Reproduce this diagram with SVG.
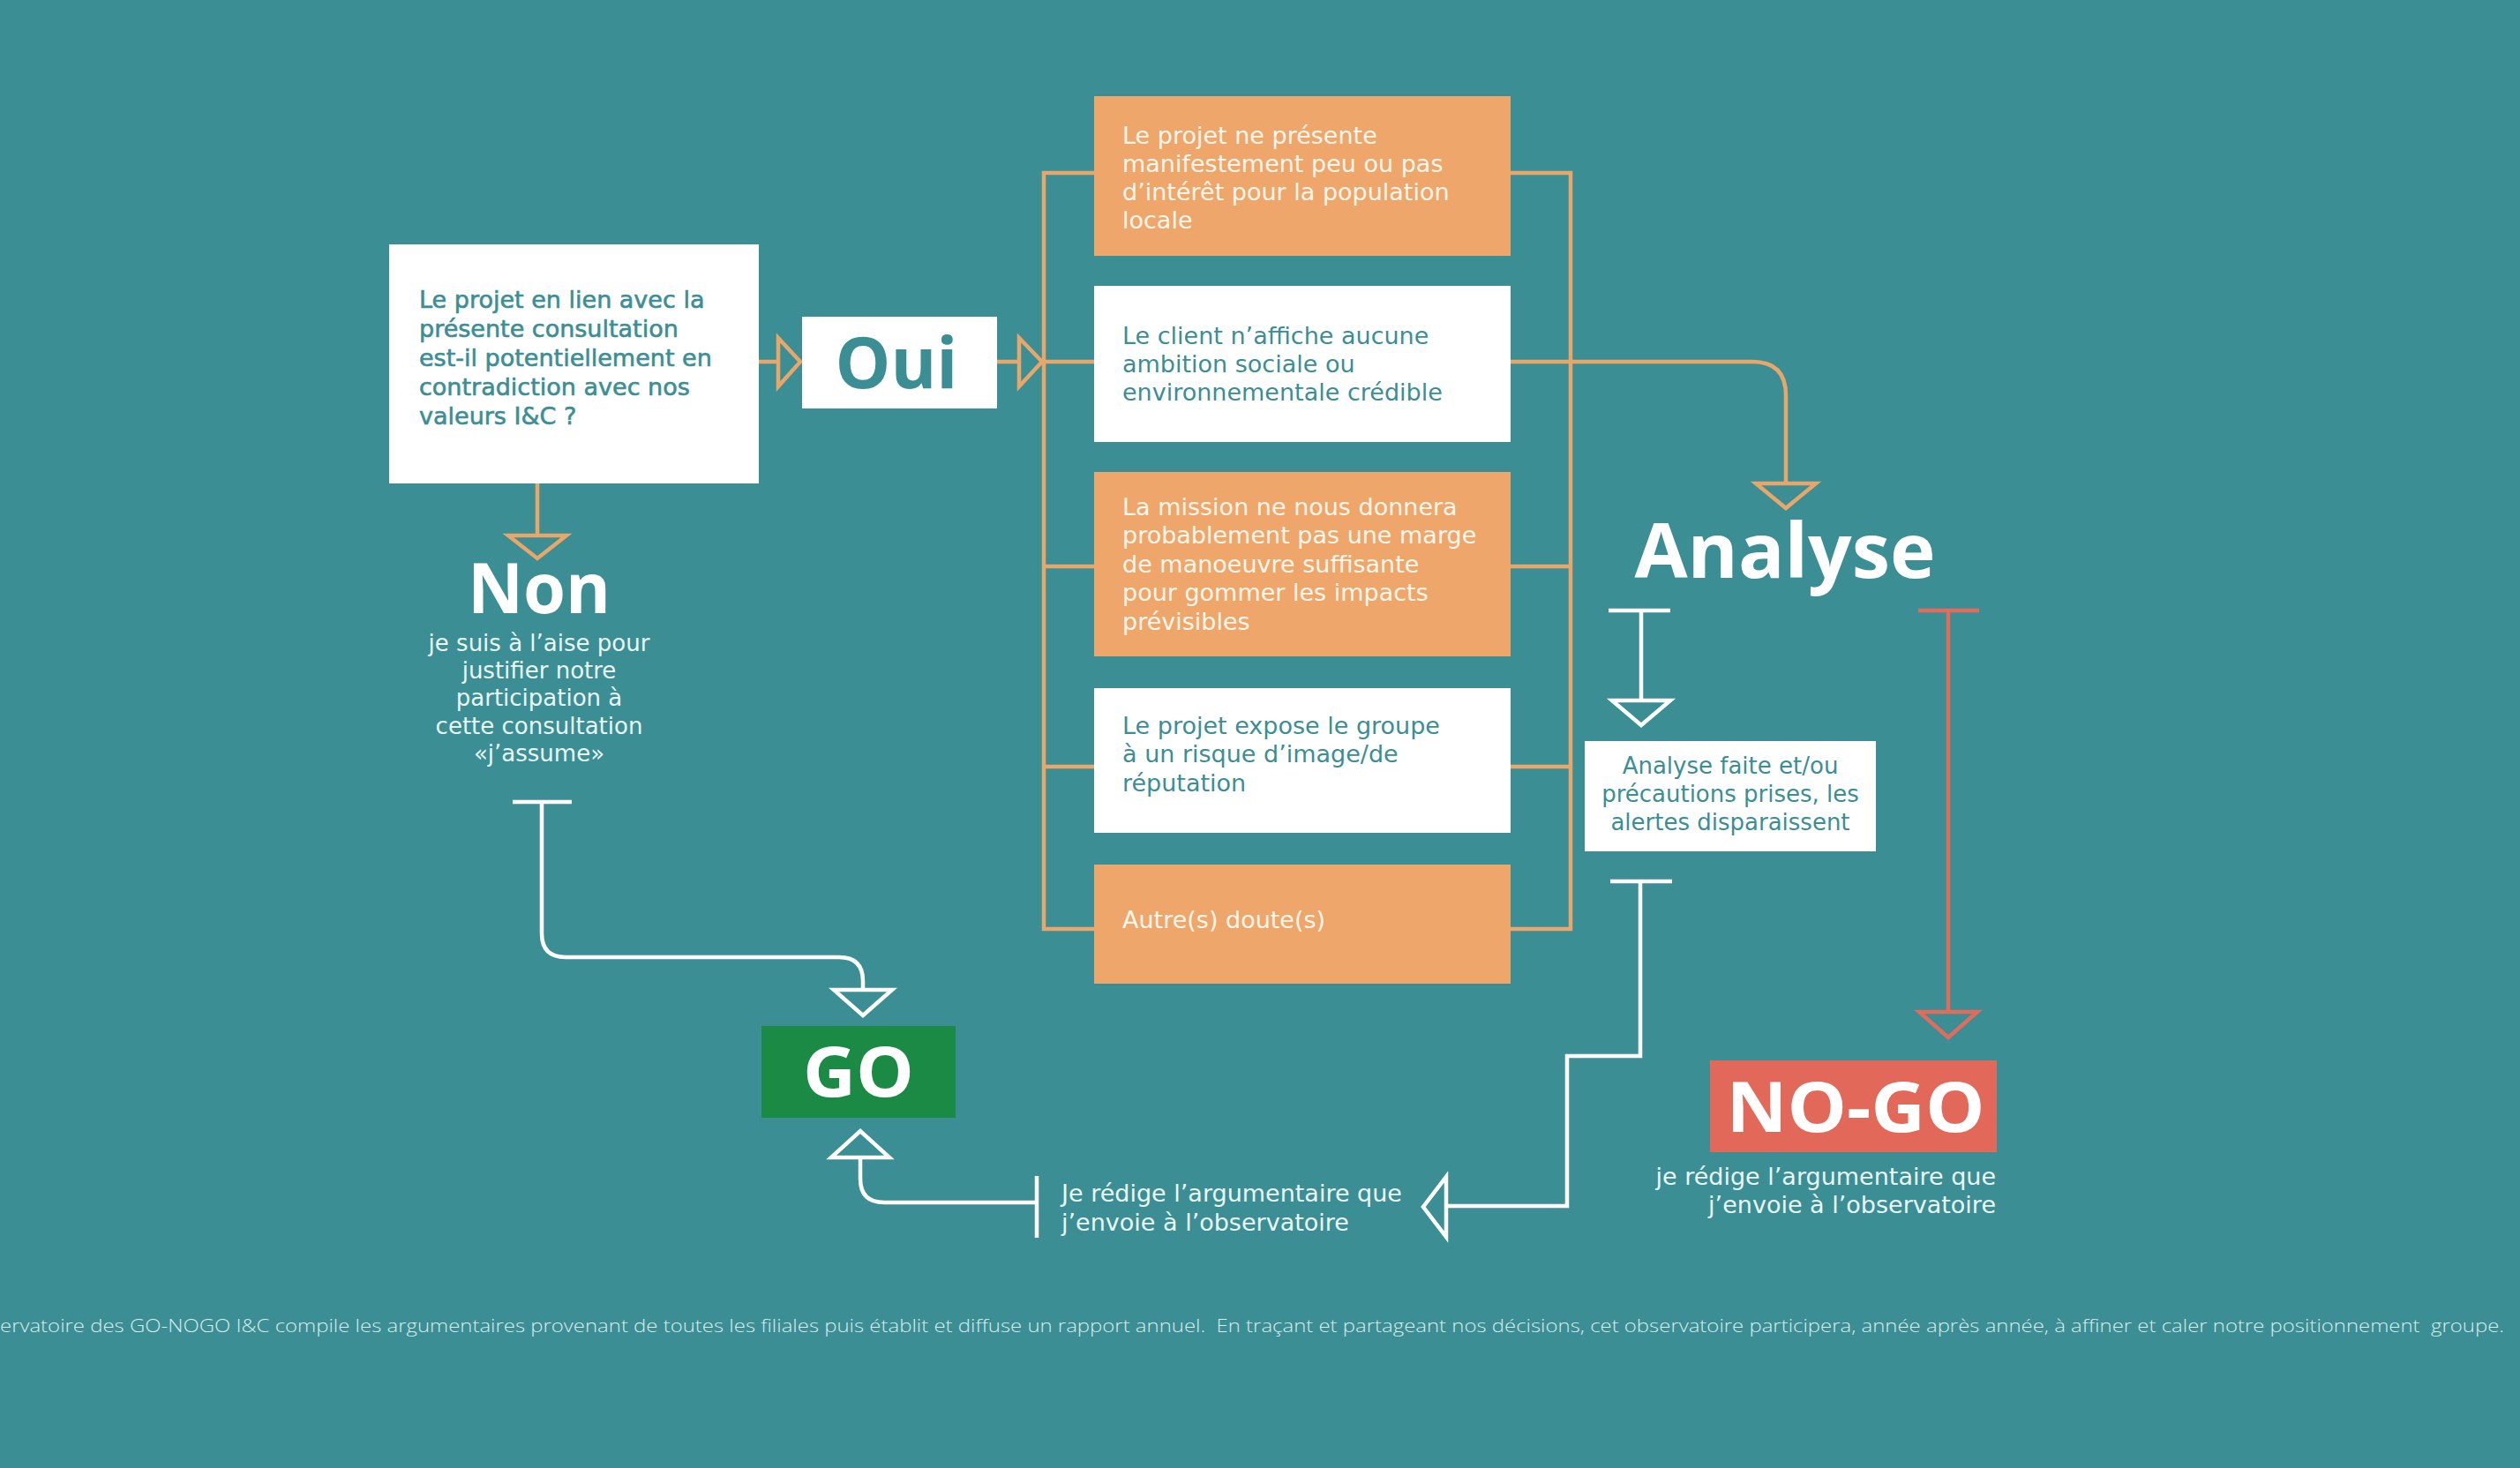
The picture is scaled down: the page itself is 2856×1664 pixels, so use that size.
<svg xmlns="http://www.w3.org/2000/svg" width="2856" height="1664" viewBox="0 0 2856 1664">
<style>
.bg{fill:#3B8E94}
.wbox{fill:#FFFFFF}
.obox{fill:#EEA66A}
.otxt{font-family:"DejaVu Sans","Liberation Sans",sans-serif;font-size:27px;fill:#FFF6EC}
.ttxt{font-family:"DejaVu Sans","Liberation Sans",sans-serif;font-size:27px;fill:#3B8E94}
.qtxt{font-family:"DejaVu Sans","Liberation Sans",sans-serif;font-size:27px;fill:#3B8E94;stroke:#3B8E94;stroke-width:0.6}
.wtxt{font-family:"DejaVu Sans","Liberation Sans",sans-serif;font-size:27px;fill:#EAF7F7}
.head{font-family:"Open Sans","Liberation Sans",sans-serif;font-weight:700;fill:#FFFFFF}
.foot{font-family:"Open Sans","Liberation Sans",sans-serif;font-size:21px;font-weight:300;fill:#D6ECEE}
.ol{fill:none;stroke:#E9A66B;stroke-width:4.5}
.wl{fill:none;stroke:#FFFFFF;stroke-width:4.5}
.rl{fill:none;stroke:#E26C5C;stroke-width:4.5}
.otri{fill:#3B8E94;stroke:#E9A66B;stroke-width:4.5;stroke-linejoin:miter}
.wtri{fill:#3B8E94;stroke:#FFFFFF;stroke-width:4.5;stroke-linejoin:miter}
.rtri{fill:#3B8E94;stroke:#E26C5C;stroke-width:4.5;stroke-linejoin:miter}
</style>
<rect class="bg" x="0" y="0" width="2856" height="1664"/>

<g id="connectors">
  <!-- question to Oui -->
  <line class="ol" x1="860" y1="410" x2="882" y2="410"/>
  <polygon class="otri" points="882,383 907,410 882,438"/>
  <!-- Oui to bracket -->
  <line class="ol" x1="1130" y1="410" x2="1155" y2="410"/>
  <polygon class="otri" points="1155,383 1181,410 1155,438"/>
  <!-- left bracket -->
  <path class="ol" d="M1240,196 H1183 V1053 H1240 M1183,410 H1240 M1183,642 H1240 M1183,869 H1240"/>
  <!-- right bracket -->
  <path class="ol" d="M1712,196 H1780 V1053 H1712 M1712,642 H1780 M1712,869 H1780"/>
  <!-- box2 to Analyse -->
  <path class="ol" d="M1712,410 H1986 Q2024,410 2024,448 V548"/>
  <polygon class="otri" points="1990,548 2058,548 2024,576"/>
  <!-- question to Non -->
  <line class="ol" x1="609" y1="548" x2="609" y2="607"/>
  <polygon class="otri" points="576,607 642,607 609,633"/>
  <!-- Non to GO -->
  <path class="wl" d="M581,909 H648 M614,909 V1058 Q614,1085 641,1085 H951 Q978,1085 978,1112 V1122"/>
  <polygon class="wtri" points="945,1122 1011,1122 978,1151"/>
  <!-- Analyse to Analyse faite -->
  <path class="wl" d="M1823,692 H1893 M1860,692 V794"/>
  <polygon class="wtri" points="1827,794 1893,794 1860,822"/>
  <!-- Analyse to NO-GO -->
  <path class="rl" d="M2174,692 H2243 M2208,692 V1147"/>
  <polygon class="rtri" points="2175,1147 2241,1147 2208,1176"/>
  <!-- Analyse faite to argumentaire -->
  <path class="wl" d="M1825,999 H1895 M1859,999 V1197 H1776 V1367 H1639"/>
  <polygon class="wtri" points="1639,1334 1639,1402 1613,1368"/>
  <!-- argumentaire to GO -->
  <path class="wl" d="M1175,1333 V1403 M1175,1363 H1002 Q975,1363 975,1336 V1312"/>
  <polygon class="wtri" points="942,1312 1008,1312 975,1282"/>
</g>

<g id="question">
  <rect class="wbox" x="441" y="277" width="419" height="271"/>
  <text class="qtxt"><tspan x="475" y="349">Le projet en lien avec la</tspan><tspan x="475" y="382">présente consultation</tspan><tspan x="475" y="415">est-il potentiellement en</tspan><tspan x="475" y="448">contradiction avec nos</tspan><tspan x="475" y="481">valeurs I&amp;C ?</tspan></text>
</g>

<g id="oui">
  <rect class="wbox" x="909" y="359" width="221" height="104"/>
  <text class="head" x="1016" y="440" font-size="80" text-anchor="middle" style="fill:#3B8E94" textLength="139" lengthAdjust="spacingAndGlyphs">Oui</text>
</g>

<g id="box1">
  <rect class="obox" x="1240" y="109" width="472" height="181"/>
  <text class="otxt"><tspan x="1272" y="163">Le projet ne présente</tspan><tspan x="1272" y="195">manifestement peu ou pas</tspan><tspan x="1272" y="227">d’intérêt pour la population</tspan><tspan x="1272" y="259">locale</tspan></text>
</g>

<g id="box2">
  <rect class="wbox" x="1240" y="324" width="472" height="177"/>
  <text class="ttxt"><tspan x="1272" y="390">Le client n’affiche aucune</tspan><tspan x="1272" y="422">ambition sociale ou</tspan><tspan x="1272" y="454">environnementale crédible</tspan></text>
</g>

<g id="box3">
  <rect class="obox" x="1240" y="535" width="472" height="209"/>
  <text class="otxt"><tspan x="1272" y="584">La mission ne nous donnera</tspan><tspan x="1272" y="616">probablement pas une marge</tspan><tspan x="1272" y="649">de manoeuvre suffisante</tspan><tspan x="1272" y="681">pour gommer les impacts</tspan><tspan x="1272" y="714">prévisibles</tspan></text>
</g>

<g id="box4">
  <rect class="wbox" x="1240" y="780" width="472" height="164"/>
  <text class="ttxt"><tspan x="1272" y="832">Le projet expose le groupe</tspan><tspan x="1272" y="864">à un risque d’image/de</tspan><tspan x="1272" y="897">réputation</tspan></text>
</g>

<g id="box5">
  <rect class="obox" x="1240" y="980" width="472" height="135"/>
  <text class="otxt" x="1272" y="1052">Autre(s) doute(s)</text>
</g>

<g id="non">
  <text class="head" x="611" y="695" font-size="78" text-anchor="middle" textLength="162" lengthAdjust="spacingAndGlyphs">Non</text>
  <text class="wtxt" text-anchor="middle" style="font-size:26px"><tspan x="611" y="738">je suis à l’aise pour</tspan><tspan x="611" y="769">justifier notre</tspan><tspan x="611" y="800">participation à</tspan><tspan x="611" y="832">cette consultation</tspan><tspan x="611" y="863">«j’assume»</tspan></text>
</g>

<g id="analyse">
  <text class="head" x="2023" y="655" font-size="86" text-anchor="middle" textLength="341" lengthAdjust="spacingAndGlyphs">Analyse</text>
</g>

<g id="analyse-faite">
  <rect class="wbox" x="1796" y="840" width="330" height="125"/>
  <text class="ttxt" text-anchor="middle" style="font-size:26px"><tspan x="1961" y="877">Analyse faite et/ou</tspan><tspan x="1961" y="909">précautions prises, les</tspan><tspan x="1961" y="941">alertes disparaissent</tspan></text>
</g>

<g id="go">
  <rect x="863" y="1163" width="220" height="104" fill="#1B8A45"/>
  <text class="head" x="973" y="1243" font-size="79" text-anchor="middle" textLength="126" lengthAdjust="spacingAndGlyphs">GO</text>
</g>

<g id="argumentaire">
  <text class="wtxt"><tspan x="1203" y="1362">Je rédige l’argumentaire que</tspan><tspan x="1203" y="1395">j’envoie à l’observatoire</tspan></text>
</g>

<g id="nogo">
  <rect x="1938" y="1202" width="325" height="104" fill="#E2685A"/>
  <text class="head" x="2103" y="1283" font-size="79" text-anchor="middle" textLength="293" lengthAdjust="spacingAndGlyphs">NO-GO</text>
  <text class="wtxt" text-anchor="end"><tspan x="2262" y="1343">je rédige l’argumentaire que</tspan><tspan x="2262" y="1375">j’envoie à l’observatoire</tspan></text>
</g>

<g id="footer">
  <text class="foot" x="0" y="1510" textLength="2838" lengthAdjust="spacingAndGlyphs" xml:space="preserve">ervatoire des GO-NOGO I&amp;C compile les argumentaires provenant de toutes les filiales puis établit et diffuse un rapport annuel.  En traçant et partageant nos décisions, cet observatoire participera, année après année, à affiner et caler notre positionnement  groupe.</text>
</g>
</svg>
